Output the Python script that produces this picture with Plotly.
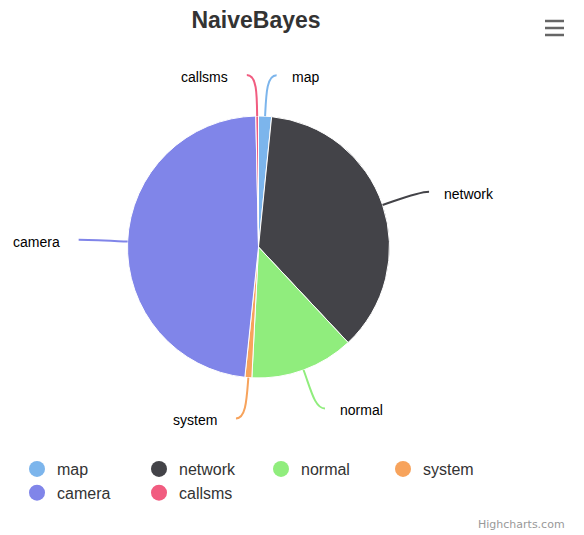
import math
import plotly.graph_objects as go

# ---- data ----
categories = ["map", "network", "normal", "system", "camera", "callsms"]
values = [1.6, 36.4, 12.8, 0.85, 48.0, 0.33]
colors = ["#7cb5ec", "#434348", "#90ed7d", "#f7a35c", "#8085e9", "#f15c80"]
title_text = "NaiveBayes"
credits_text = "Highcharts.com"

# ---- layout constants (page pixels) ----
PAGE_OFF = 8  # default body margin of the html page
W, H = 584 - PAGE_OFF, 535 - PAGE_OFF
CX, CY, R = 258.5, 247.0, 131.0
RY_LABEL = 172.0
RX_LABEL = 161.0


def px(x):
    return (x - PAGE_OFF) / W


def py(y):
    return 1 - (y - PAGE_OFF) / H


fig = go.Figure()
fig.add_trace(go.Pie(
    labels=categories, values=values, sort=False, direction="clockwise", rotation=0,
    marker=dict(colors=colors, line=dict(color="#ffffff", width=1)),
    textinfo="none", showlegend=False, hoverinfo="label+percent",
    domain=dict(x=[px(CX - R), px(CX + R)], y=[py(CY + R), py(CY - R)]),
))

# legend entries (circle symbols)
for c, col in zip(categories, colors):
    fig.add_trace(go.Scatter(x=[None], y=[None], mode="markers", name=c,
                             marker=dict(color=col, size=16, symbol="circle", line=dict(width=0))))

shapes = []
annotations = []
total = sum(values)
cum = 0.0
for c, v, col in zip(categories, values, colors):
    mid = (cum + v / 2) / total
    cum += v
    th = 2 * math.pi * mid
    s, co = math.sin(th), math.cos(th)
    side = 1 if s >= 0 else -1
    sx, sy = CX + R * s, CY - R * co
    c1x, c1y = CX + (R + 22) * s, CY - (R + 22) * co
    ey = CY - RY_LABEL * co
    ex = CX + side * (RX_LABEL * abs(s) + 10 + 9 * s * s)
    c2x, c2y = ex - side * 10, ey
    path = "M {},{} C {},{} {},{} {},{}".format(px(sx), py(sy), px(c1x), py(c1y),
                                                 px(c2x), py(c2y), px(ex), py(ey))
    shapes.append(dict(type="path", path=path, xref="paper", yref="paper",
                       line=dict(color=col, width=2)))
    if side > 0:
        annotations.append(dict(x=px(ex + 13), y=py(ey + 2), xref="paper", yref="paper",
                                text=c, showarrow=False, xanchor="left", yanchor="middle",
                                font=dict(family="Liberation Sans", size=14, color="#000000")))
    else:
        annotations.append(dict(x=px(ex - 17), y=py(ey + 2), xref="paper", yref="paper",
                                text=c, showarrow=False, xanchor="right", yanchor="middle",
                                font=dict(family="Liberation Sans", size=14, color="#000000")))

# context-menu icon
for ly in (21, 28, 35):
    shapes.append(dict(type="line", xref="paper", yref="paper",
                       x0=px(545), x1=px(564), y0=py(ly), y1=py(ly),
                       line=dict(color="#666666", width=2.5)))

annotations.append(dict(x=px(567), y=py(524), xref="paper", yref="paper", text=credits_text,
                        showarrow=False, xanchor="right", yanchor="middle",
                        font=dict(family="DejaVu Sans", size=11, color="#999999")))

fig.update_layout(
    width=W, height=H,
    margin=dict(l=0, r=0, t=0, b=0),
    paper_bgcolor="#ffffff", plot_bgcolor="#ffffff",
    title=dict(text=title_text, x=px(256), xanchor="center", y=py(20), yanchor="middle",
               font=dict(family="Liberation Sans", size=23, color="#333333", weight="bold")),
    xaxis=dict(visible=False), yaxis=dict(visible=False),
    legend=dict(orientation="h", x=px(17), xanchor="left", y=py(452), yanchor="top",
                entrywidth=77, entrywidthmode="pixels",
                font=dict(family="Liberation Sans", size=16, color="#333333"),
                bgcolor="rgba(0,0,0,0)"),
    shapes=shapes, annotations=annotations,
)

fig.write_html("out.html")
